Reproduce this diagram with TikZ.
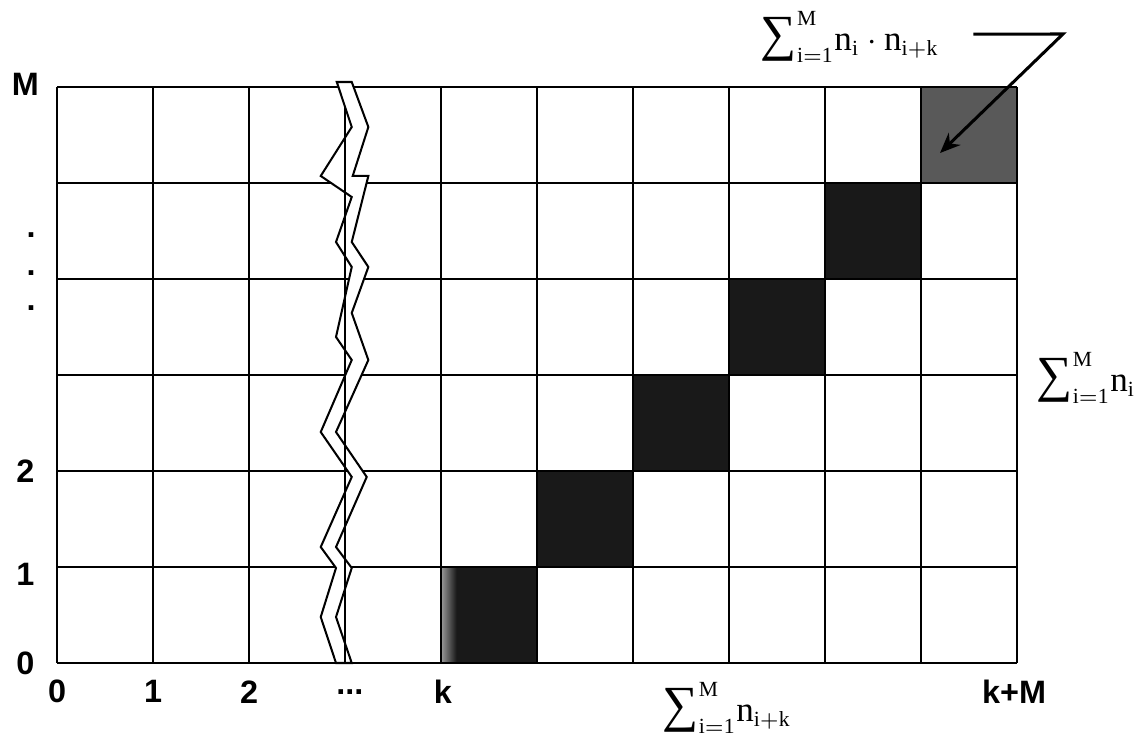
\documentclass[tikz,border=0pt]{standalone}
\usepackage{amsmath}
\usepackage{fontspec}
\setmainfont{Liberation Serif}
\setsansfont{Liberation Sans}
\usepackage{tikz}
\usetikzlibrary{arrows.meta,calc,positioning}
\DeclareMathSizes{10.4}{10.4}{6.4}{5}
\newcommand{\bigsig}{\text{\fontsize{15}{15}\selectfont ∑}}

\begin{document}
\begin{tikzpicture}[>=Stealth, x=1cm, y=1cm,
    lab/.style={font=\sffamily\bfseries\fontsize{9.6}{11}\selectfont, inner sep=0pt},
    sumlab/.style={font=\fontsize{10.4}{12}\selectfont, inner sep=0pt},
    cellfill/.style={fill=black!90},
    gridline/.style={line width=0.6pt}]
  \useasboundingbox (-0.594,-0.771) rectangle (11.333,6.906);
  % shaded diagonal
  \foreach \i in {0,...,4}
    \fill[cellfill] (4+\i,\i) rectangle (5+\i,1+\i);
  \fill[black!65] (9,5) rectangle (10,6);
  \shade[left color=black!40, right color=black!90] (4,0) rectangle (4.16,1);
  % grid
  \draw[gridline] (0,0) grid (10,6);
  % break in the axis
  \filldraw[fill=white, line width=0.6pt]
    (2.914,6.052) -- (3.070,5.583) -- (2.747,5.073) -- (3.070,4.854)
    -- (2.906,4.385) -- (3.070,4.125) -- (2.906,3.396) -- (3.070,3.156)
    -- (2.747,2.406) -- (3.070,1.938) -- (2.747,1.208) -- (2.906,0.990)
    -- (2.747,0.479) -- (2.906,0) -- (3.070,0) -- (2.906,0.479)
    -- (3.070,0.990) -- (2.906,1.208) -- (3.226,1.938) -- (2.906,2.406)
    -- (3.243,3.156) -- (3.070,3.646) -- (3.243,4.125) -- (3.070,4.385)
    -- (3.243,5.073) -- (3.080,5.073) -- (3.243,5.583) -- (3.070,6.052) -- cycle;
  \draw[gridline] (3,0) -- (3,5.69);
  \draw[gridline] (0,0) -- (10,0);
  % axis labels
  \node[lab] (x0) at (0,-0.30) {0};
  \node[lab] (x1) at (1,-0.30) {1};
  \node[lab] (x2) at (2,-0.30) {2};
  \node[lab] (xdots) at (3.05,-0.30) {...};
  \node[lab] (xk) at (4.02,-0.30) {k};
  \node[lab] (xkM) at (9.97,-0.30) {k+M};
  \node[lab] (y0) at (-0.33,0) {0};
  \node[lab] (y1) at (-0.33,0.92) {1};
  \node[lab] (y2) at (-0.33,2.0) {2};
  \node[lab] (yM) at (-0.33,6.03) {M};
  \node[lab, anchor=base] (yd1) at (-0.27,4.43) {.};
  \node[lab, anchor=base] (yd2) at (-0.27,4.04) {.};
  \node[lab, anchor=base] (yd3) at (-0.27,3.67) {.};
  % sums
  \node[sumlab] (sumtop) at (8.26,6.52) {$\bigsig^{\mathrm{M}}_{\mathrm{i{=}1}}\mathrm{n}_{\mathrm{i}}\cdot \mathrm{n}_{\mathrm{i+k}}$};
  \node[sumlab, anchor=west] (sumright) at (10.20,2.97) {$\bigsig^{\mathrm{M}}_{\mathrm{i{=}1}}\mathrm{n}_{\mathrm{i}}$};
  \node[sumlab] (sumbottom) at (6.98,-0.47) {$\bigsig^{\mathrm{M}}_{\mathrm{i{=}1}}\mathrm{n}_{\mathrm{i+k}}$};
  \coordinate (bend) at (10.479,6.552);
  \coordinate (tip) at (9.198,5.3125);
  \draw[line width=0.9pt, -{Stealth[length=6pt,width=5pt]}]
    ($(sumtop.east)+(0.35,0.03)$) -- (bend) -- (tip);
\end{tikzpicture}
\end{document}
